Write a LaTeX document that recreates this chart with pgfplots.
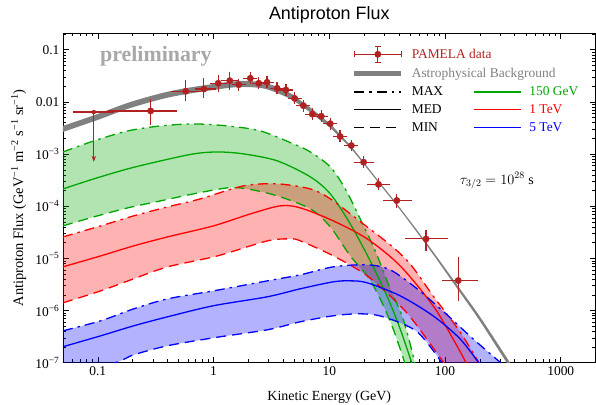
\documentclass[border=0pt]{standalone}
\usepackage{fontspec}
\setmainfont{Liberation Serif}
\newfontfamily\titlefont{Liberation Sans}
\usepackage{pgfplots}
\usepackage{pgfplotstable}
\pgfplotsset{compat=1.18}
\usepgfplotslibrary{fillbetween}
\usetikzlibrary{arrows.meta}
\definecolor{pam}{rgb}{0.70,0.13,0.13}
\definecolor{mgreen}{rgb}{0,0.65,0}
\definecolor{mred}{rgb}{1,0,0}
\definecolor{mblue}{rgb}{0,0,1}
\definecolor{prelim}{rgb}{0.66,0.66,0.66}
\tikzset{maxdash/.style={dash pattern=on 10bp off 5bp on 2.5bp off 5bp},
         mindash/.style={dash pattern=on 10bp off 6bp}}

\pgfplotstableread{
E F xm xp ym yp
0.286 6.73e-3 0.157 0.166 2.59e-3 3.27e-3
0.574 1.60e-2 0.122 0.154 4.1e-3 7.1e-3
0.825 1.77e-2 0.097 0.155 4.1e-3 7.9e-3
1.098 2.28e-2 0.118 0.122 5.1e-3 6.0e-3
1.382 2.56e-2 0.162 0.168 6.2e-3 7.7e-3
1.65 2.14e-2 0.122 0.132 2.60e-3 2.97e-3
2.08 2.84e-2 0.154 0.166 3.49e-3 3.98e-3
2.46 2.28e-2 0.182 0.197 2.80e-3 3.19e-3
2.90 2.38e-2 0.215 0.232 2.92e-3 3.33e-3
3.54 1.83e-2 0.262 0.283 2.25e-3 2.56e-3
4.22 1.70e-2 0.313 0.338 2.09e-3 2.38e-3
5.02 1.17e-2 0.372 0.402 1.44e-3 1.64e-3
5.97 8.5e-3 0.442 0.478 1.04e-3 1.19e-3
7.13 5.83e-3 0.528 0.570 7.16e-4 8.16e-4
8.53 5.32e-3 0.632 0.682 6.53e-4 7.45e-4
10.2 3.84e-3 0.756 0.816 4.72e-4 5.38e-4
12.4 2.18e-3 0.919 0.992 2.68e-4 3.05e-4
15.5 1.46e-3 1.15 1.24 1.79e-4 2.04e-4
19.8 7.0e-4 2.5 3.2 8.6e-5 9.8e-5
26.6 2.63e-4 4.0 5.2 3.23e-5 3.68e-5
38.3 1.29e-4 7.3 10.7 2.09e-5 2.49e-5
68.6 2.37e-5 20.9 31.4 7.7e-6 7.2e-6
130 3.77e-6 30 51 2.04e-6 5.73e-6
}\pamela

\begin{document}
\begin{tikzpicture}
\begin{axis}[
  at={(0,0)}, anchor=south west,
  scale only axis, width=533bp, height=330bp,
  xmode=log, ymode=log,
  xmin=0.05, xmax=2000, ymin=1e-7, ymax=0.21,
  xtick={0.1,1,10,100,1000}, xticklabels={0.1,1,10,100,1000},
  minor xtick={0.06,0.07,0.08,0.09,0.2,0.3,0.4,0.5,0.6,0.7,0.8,0.9,2,3,4,5,6,7,8,9,20,30,40,50,60,70,80,90,200,300,400,500,600,700,800,900,2000},
  ytick={1e-7,1e-6,1e-5,1e-4,1e-3,0.01,0.1},
  yticklabels={10\textsuperscript{−7},10\textsuperscript{−6},10\textsuperscript{−5},10\textsuperscript{−4},10\textsuperscript{−3},0.01,0.1},
  minor ytick={2e-7,3e-7,4e-7,5e-7,6e-7,7e-7,8e-7,9e-7,2e-6,3e-6,4e-6,5e-6,6e-6,7e-6,8e-6,9e-6,2e-5,3e-5,4e-5,5e-5,6e-5,7e-5,8e-5,9e-5,2e-4,3e-4,4e-4,5e-4,6e-4,7e-4,8e-4,9e-4,2e-3,3e-3,4e-3,5e-3,6e-3,7e-3,8e-3,9e-3,0.02,0.03,0.04,0.05,0.06,0.07,0.08,0.09,0.2},
  major tick length=6bp, minor tick length=3.5bp,
  tick style={black, line width=0.6bp},
  axis line style={black, line width=0.8bp},
  tick label style={font=\fontsize{13.5}{15}\selectfont},
  title={\titlefont\fontsize{18}{20}\selectfont Antiproton Flux},
  title style={at={(0.5,1)}, anchor=base, yshift=8bp},
  xlabel={Kinetic Energy (GeV)},
  every axis x label/.style={at={(axis description cs:0.5,0)}, anchor=base, yshift=-37.5bp, font=\fontsize{14}{16}\selectfont},
  ylabel={Antiproton Flux (GeV\textsuperscript{−1} m\textsuperscript{−2} s\textsuperscript{−1} sr\textsuperscript{−1})},
  every axis y label/.style={at={(axis description cs:-0.075,0.5)}, rotate=90, anchor=base, font=\fontsize{14.5}{16}\selectfont},
  legend columns=2,
  legend cell align=left,
  legend image code/.code={\draw[#1] (0bp,0bp) -- (47bp,0bp);},
  legend style={at={(0.542,0.962)}, anchor=north west, draw=none, fill=none,
    inner sep=0pt, font=\fontsize{13.5}{15}\selectfont,
    /tikz/every odd column/.style={column sep=6bp},
    /tikz/every even column/.style={column sep=28bp},
    row sep=3.5bp},
]
% astrophysical background band
\addplot[draw=none, name path=bgU, smooth, forget plot] coordinates {
(0.05,3.470e-3) (0.1,5.890e-3) (0.192,1.001e-2) (0.426,1.621e-2) (1.0,2.215e-2) (1.71,2.523e-2) (2.81,2.317e-2) (4.61,1.471e-2) (5.62,1.073e-2) (6.86,7.816e-3) (8.36,5.433e-3) (10.2,3.790e-3) (12.4,2.393e-3) (15.8,1.329e-3) (20.4,6.490e-4) (27.5,2.811e-4) (40.9,9.301e-5) (74.2,1.620e-5) (135,2.588e-6) (200,7.681e-7) (349,1.166e-7) (443,5.295e-8)};
\addplot[draw=none, name path=bgL, smooth, forget plot] coordinates {
(0.05,2.663e-3) (0.1,4.520e-3) (0.192,7.683e-3) (0.426,1.244e-2) (1.0,1.700e-2) (1.71,1.936e-2) (2.81,1.778e-2) (4.61,1.149e-2) (5.62,8.532e-3) (6.86,6.323e-3) (8.36,4.474e-3) (10.2,3.177e-3) (12.4,2.078e-3) (15.8,1.195e-3) (20.4,5.942e-4) (27.5,2.574e-4) (40.9,8.516e-5) (74.2,1.445e-5) (135,2.207e-6) (200,6.325e-7) (349,9.272e-8) (443,4.172e-8)};
\addplot[fill=gray, draw=none, forget plot] fill between[of=bgU and bgL];

% PAMELA data
\addplot[pam, only marks, mark=none, forget plot,
  error bars/.cd, x dir=both, x explicit,
  error bar style={pam, line width=1.2bp},
  error mark options={pam, mark size=3bp, line width=1.2bp}]
  coordinates {(0.0924,6.4e-3) += (0.0366,0) -= (0.0278,0)};
\addplot[pam, line width=1.2bp, forget plot, -{Stealth[length=6bp,width=4.5bp]}]
  coordinates {(0.0924,6.4e-3) (0.0924,7.1e-4)};
\addplot[pam, only marks, mark=*, mark size=3.2bp, forget plot,
  error bars/.cd, x dir=both, x explicit, y dir=both, y explicit,
  error bar style={pam, line width=1.2bp},
  error mark options={pam, mark size=3bp, line width=1.2bp}]
  table[x=E, y=F, x error plus=xp, x error minus=xm, y error plus=yp, y error minus=ym] {\pamela};

% 150 GeV (green)
\addplot[mgreen, line width=1.3bp, maxdash, smooth, name path=gmax, forget plot] coordinates {
(0.05,1.10e-3) (0.0924,1.79e-3) (0.1814,2.78e-3) (0.3493,3.47e-3) (0.6724,3.79e-3) (1.320,3.47e-3) (2.542,2.78e-3) (4.894,1.57e-3) (6.859,1.10e-3) (10.20,5.69e-4) (13.74,2.15e-4) (18.50,5.74e-5) (24.93,1.40e-5) (33.57,2.62e-6) (43.44,6.97e-7) (55.6,9.0e-8)};
\addplot[mgreen, line width=1.3bp, smooth, forget plot] coordinates {
(0.05,2.15e-4) (0.0924,3.35e-4) (0.1814,5.21e-4) (0.3493,7.41e-4) (0.6724,1.01e-3) (1.083,1.10e-3) (1.814,1.01e-3) (3.563,7.41e-4) (6.859,3.66e-4) (10.20,1.73e-4) (15.17,4.60e-5) (22.56,8.99e-6) (32.27,1.68e-6) (40.94,4.48e-7) (52.4,9.0e-8)};
\addplot[mgreen, line width=1.3bp, mindash, smooth, name path=gmin, forget plot] coordinates {
(0.05,4.21e-5) (0.0924,6.26e-5) (0.1814,9.32e-5) (0.3493,1.27e-4) (0.6724,1.73e-4) (1.320,2.25e-4) (1.964,2.15e-4) (3.563,1.58e-4) (6.859,8.92e-5) (10.20,4.03e-5) (15.17,1.12e-5) (21.27,4.64e-6) (27.53,1.68e-6) (35.63,4.48e-7) (45.6,9.0e-8)};
\addplot[fill=mgreen, fill opacity=0.3, draw=none, forget plot] fill between[of=gmax and gmin];

% 1 TeV (red)
\addplot[mred, line width=1.3bp, maxdash, smooth, name path=rmax, forget plot] coordinates {
(0.05,2.59e-5) (0.1061,4.21e-5) (0.2043,6.55e-5) (0.4013,9.74e-5) (0.7727,1.39e-4) (1.814,2.46e-4) (3.563,2.69e-4) (6.859,2.15e-4) (10.20,1.39e-4) (19.64,4.60e-5) (33.57,1.82e-5) (49.92,7.88e-6) (78.80,1.92e-6) (134.7,3.93e-7) (202,9.0e-8)};
\addplot[mred, line width=1.3bp, smooth, forget plot] coordinates {
(0.05,6.90e-6) (0.1061,1.12e-5) (0.2043,1.74e-5) (0.4013,2.59e-5) (1,4.21e-5) (2.084,7.15e-5) (3.782,1.02e-4) (5.623,9.32e-5) (10.83,5.25e-5) (21.27,2.37e-5) (40.94,7.22e-6) (78.80,1.24e-6) (117.2,2.88e-7) (156,9.0e-8)};
\addplot[mred, line width=1.3bp, mindash, smooth, name path=rmin, forget plot] coordinates {
(0.05,1.41e-6) (0.1061,2.39e-6) (0.2043,4.07e-6) (0.4013,6.90e-6) (1.083,1.12e-5) (2.921,2.17e-5) (4.611,2.37e-5) (5.623,2.17e-5) (10.83,1.12e-5) (21.27,4.64e-6) (40.94,1.24e-6) (57.37,5.11e-7) (101,9.0e-8)};
\addplot[fill=mred, fill opacity=0.3, draw=none, forget plot] fill between[of=rmax and rmin];

% 5 TeV (blue)
\addplot[mblue, line width=1.3bp, maxdash, smooth, name path=bmax, forget plot] coordinates {
(0.05,4.10e-7) (0.1061,6.38e-7) (0.2043,1.08e-6) (0.4013,1.68e-6) (1,2.39e-6) (2.921,3.72e-6) (5.623,4.85e-6) (10.83,6.90e-6) (21.27,7.54e-6) (33.57,6.05e-6) (57.37,2.62e-6) (104.0,8.31e-7) (174.3,2.88e-7) (320,9.0e-8)};
\addplot[mblue, line width=1.3bp, smooth, forget plot] coordinates {
(0.05,2.03e-7) (0.1061,3.29e-7) (0.2043,5.11e-7) (0.4013,7.61e-7) (1,1.24e-6) (2.921,1.84e-6) (5.623,2.62e-6) (10.83,3.56e-6) (15.17,3.72e-6) (21.27,3.41e-6) (40.94,1.92e-6) (78.80,7.95e-7) (134.7,2.88e-7) (202,9.0e-8)};
\addplot[mblue, line width=1.3bp, mindash, smooth, name path=bmin, forget plot] coordinates {
(0.05,4.52e-8) (0.1487,1.04e-7) (0.2043,1.42e-7) (0.4013,2.12e-7) (1,3.01e-7) (2.921,4.29e-7) (5.623,6.10e-7) (10.83,7.95e-7) (18.50,8.68e-7) (29.21,7.61e-7) (57.37,3.93e-7) (97,9.0e-8)};
\addplot[fill=mblue, fill opacity=0.3, draw=none, forget plot] fill between[of=bmax and bmin];

% texts
\node[anchor=base west, inner sep=0pt, text=prelim, font=\bfseries\fontsize{22}{24}\selectfont] at (rel axis cs:0.0694,0.915) {preliminary};
\node[anchor=base west, inner sep=0pt, font=\fontsize{14}{16}\selectfont] at (rel axis cs:0.745,0.542) {$\tau_{3/2} = 10^{28}$ s};

% legend
\addlegendimage{legend image code/.code={
  \draw[pam, line width=1.2bp] (0bp,0bp) -- (47bp,0bp);
  \draw[pam, line width=1.2bp] (0bp,-3bp) -- (0bp,3bp) (47bp,-3bp) -- (47bp,3bp);
  \draw[pam, line width=1.2bp] (23.5bp,-8bp) -- (23.5bp,8bp) (20.5bp,-8bp) -- (26.5bp,-8bp) (20.5bp,8bp) -- (26.5bp,8bp);
  \fill[pam] (23.5bp,0bp) circle (3.2bp);}}
\addlegendentry{\makebox[0pt][l]{\textcolor{pam}{PAMELA data}}}
\addlegendimage{empty legend}\addlegendentry{}
\addlegendimage{legend image code/.code={\draw[gray, line width=5bp] (0bp,0bp) -- (47bp,0bp);}}
\addlegendentry{\makebox[0pt][l]{\textcolor{gray}{Astrophysical Background}}}
\addlegendimage{empty legend}\addlegendentry{}
\addlegendimage{black, line width=1.3bp, maxdash}\addlegendentry{MAX}
\addlegendimage{mgreen, line width=1.3bp}\addlegendentry{\textcolor{mgreen}{150 GeV}}
\addlegendimage{black, line width=1.3bp}\addlegendentry{MED}
\addlegendimage{mred, line width=1.3bp}\addlegendentry{\textcolor{mred}{1 TeV}}
\addlegendimage{black, line width=1.3bp, mindash}\addlegendentry{MIN}
\addlegendimage{mblue, line width=1.3bp}\addlegendentry{\textcolor{mblue}{5 TeV}}
\end{axis}
\pgfresetboundingbox
\path[use as bounding box] (-63bp,-42bp) rectangle (533.4bp,363bp);
\end{tikzpicture}
\end{document}
